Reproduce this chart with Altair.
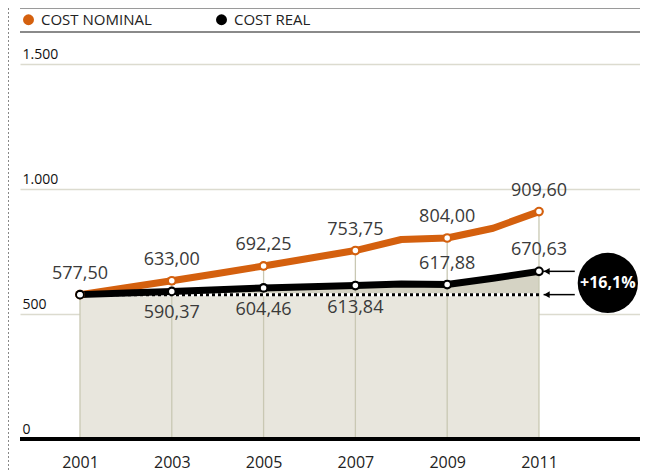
import altair as alt
import pandas as pd

# ---------------- data ----------------
years = [2001, 2002, 2003, 2004, 2005, 2006, 2007, 2008, 2009, 2010, 2011]
nominal = [577.50, 605.0, 633.00, 662.0, 692.25, 723.0, 753.75, 798.0, 804.00, 843.0, 909.60]
real = [577.50, 584.0, 590.37, 597.0, 604.46, 609.0, 613.84, 620.0, 617.88, 643.0, 670.63]

label_years = [2001, 2003, 2005, 2007, 2009, 2011]
nominal_labels = ["577,50", "633,00", "692,25", "753,75", "804,00", "909,60"]
real_labels = ["", "590,37", "604,46", "613,84", "617,88", "670,63"]
real_label_pos = ["none", "below", "below", "below", "above", "above"]

series_names = ["COST NOMINAL", "COST REAL"]
series_colors = ["#d4600e", "#000000"]

y_ticks = [0, 500, 1000, 1500]
x_ticks = [2001, 2003, 2005, 2007, 2009, 2011]
badge_text = "+16,1%"

# ---------------- tables ----------------
base_value = real[0]
area_df = pd.DataFrame({"year": years, "value": real, "base": [base_value] * len(years)})

line_rows = []
for name, vals in zip(series_names, [nominal, real]):
    for y, v in zip(years, vals):
        line_rows.append({"year": y, "value": v, "series": name})
line_df = pd.DataFrame(line_rows)

pt_rows = []
for name, vals in zip(series_names, [nominal, real]):
    for y, v in zip(years, vals):
        if y in label_years:
            pt_rows.append({"year": y, "value": v, "series": name})
pt_df = pd.DataFrame(pt_rows)

nom_lab_df = pd.DataFrame({
    "year": label_years,
    "value": [nominal[years.index(y)] for y in label_years],
    "text": nominal_labels,
})
real_lab_df = pd.DataFrame({
    "year": label_years,
    "value": [real[years.index(y)] for y in label_years],
    "text": real_labels,
    "pos": real_label_pos,
})
vrule_df = pd.DataFrame({
    "year": label_years,
    "value": [nominal[years.index(y)] for y in label_years],
})
dotted_df = pd.DataFrame({"year": [years[0]], "year2": [years[-1]], "value": [base_value]})
arrow_df = pd.DataFrame({"year": [2011.1, 2011.1], "year2": [2011.78, 2011.78],
                         "value": [real[-1], base_value]})
head_df = pd.DataFrame({"year": [2011.17, 2011.17], "value": [real[-1], base_value]})
badge_df = pd.DataFrame({"year": [2012.5], "value": [(real[-1] + base_value) / 2],
                         "text": [badge_text]})

# ---------------- scales ----------------
xscale = alt.Scale(domain=[1999.693, 2013.201], nice=False, zero=False)
yscale = alt.Scale(domain=[0, 1724], nice=False)
FONT = "Open Sans"
PLOT_W = 620


def X(field="year"):
    return alt.X(f"{field}:Q", scale=xscale, title=None)


def Y(field="value"):
    return alt.Y(f"{field}:Q", scale=yscale, title=None)


def series_legend():
    return alt.Legend(title=None, orient="none", direction="horizontal",
                      legendX=1, legendY=4, padding=0, symbolType="circle", symbolSize=120,
                      labelFontSize=15, labelFont=FONT, labelColor="#222222",
                      labelOffset=5, columnPadding=62, symbolStrokeWidth=0,
                      labelLimit=300)


area_light = alt.Chart(area_df).mark_area(color="#e8e6dd").encode(
    x=alt.X("year:Q", scale=xscale, title=None,
            axis=alt.Axis(values=x_ticks, format="d", title=None, domain=False, ticks=False,
                          grid=False, labelFontSize=16, labelPadding=15, labelColor="#222222",
                          labelFont=FONT, labelBaseline="top")),
    y=alt.Y("value:Q", scale=yscale, title=None,
            axis=alt.Axis(values=y_ticks, title=None, domain=False, ticks=False, tickSize=0,
                          grid=True, gridColor="#dcdbcf", gridWidth=1.5,
                          labelAlign="left", labelPadding=-2, labelBaseline="alphabetic",
                          labelOffset=-6, labelFontSize=14, labelColor="#111111", labelFont=FONT,
                          labelExpr="replace(format(datum.value, ','), ',', '.')")),
)

area_dark = alt.Chart(area_df).mark_area(color="#d5d3c4").encode(
    x=X(), y=Y(), y2="base:Q"
)

vrules = alt.Chart(vrule_df).mark_rule(color="#c9c8b3", strokeWidth=1.3).encode(
    x=X(), y=Y(), y2=alt.datum(0)
)

baseline = alt.Chart(area_df).mark_rule(color="#000000", strokeWidth=3).encode(
    y=alt.datum(0, scale=yscale)
)

dotted_white = alt.Chart(dotted_df).mark_rule(color="#ffffff", strokeWidth=3).encode(
    x=X(), x2="year2:Q", y=Y()
)
dotted = alt.Chart(dotted_df).mark_rule(color="#000000", strokeWidth=3, strokeDash=[3, 3]).encode(
    x=X(), x2="year2:Q", y=Y()
)

color_scale = alt.Scale(domain=series_names, range=series_colors)

lines = alt.Chart(line_df).mark_line(strokeWidth=7, strokeJoin="round").encode(
    x=X(), y=Y(),
    color=alt.Color("series:N", scale=color_scale, legend=series_legend()),
    detail="series:N",
)

circles = alt.Chart(pt_df).mark_circle(size=95, opacity=1).encode(
    x=X(), y=Y(),
    color=alt.Color("series:N", scale=color_scale, legend=series_legend()),
)

white_dots = alt.Chart(pt_df).mark_circle(size=30, opacity=1, color="#ffffff").encode(
    x=X(), y=Y()
)

nom_text = alt.Chart(nom_lab_df).mark_text(
    dy=-21, fontSize=18, font=FONT, color="#3a3a3a"
).encode(x=X(), y=Y(), text="text:N")

real_above = alt.Chart(real_lab_df).transform_filter(alt.datum.pos == "above").mark_text(
    dy=-21, fontSize=18, font=FONT, color="#3a3a3a"
).encode(x=X(), y=Y(), text="text:N")

real_below = alt.Chart(real_lab_df).transform_filter(alt.datum.pos == "below").mark_text(
    dy=22, fontSize=18, font=FONT, color="#3a3a3a"
).encode(x=X(), y=Y(), text="text:N")

arrows = alt.Chart(arrow_df).mark_rule(color="#000000", strokeWidth=1.5).encode(
    x=X(), x2="year2:Q", y=Y()
)
heads = alt.Chart(head_df).mark_point(shape="triangle-left", filled=True, size=45,
                                      color="#000000", opacity=1).encode(x=X(), y=Y())

badge = alt.Chart(badge_df).mark_circle(size=3630, color="#000000", opacity=1).encode(
    x=X(), y=Y()
)
badge_label = alt.Chart(badge_df).mark_text(
    fontSize=16, font=FONT, fontWeight="bold", color="#ffffff"
).encode(x=X(), y=Y(), text="text:N")

sep_top = alt.Chart(area_df).mark_rule(color="#9a9a9a", strokeWidth=1).encode(
    x=alt.value(0), x2=alt.value(PLOT_W), y=alt.value(0.5)
)
sep_legend = alt.Chart(area_df).mark_rule(color="#8a8a8a", strokeWidth=1.5).encode(
    x=alt.value(0), x2=alt.value(PLOT_W), y=alt.value(24)
)
left_border = alt.Chart(area_df).mark_rule(color="#888888", strokeWidth=2,
                                           strokeDash=[2, 2]).encode(
    x=alt.value(-12), y=alt.value(0), y2=alt.value(463)
)

chart = alt.layer(
    area_light, area_dark, vrules, baseline, dotted_white, dotted,
    lines, circles, white_dots, nom_text, real_above, real_below,
    arrows, heads, badge, badge_label, sep_top, sep_legend, left_border,
).properties(
    width=PLOT_W, height=431,
    autosize=alt.AutoSizeParams(type="none"),
    padding={"left": 12, "top": 0, "right": 0, "bottom": 32},
    background="#ffffff",
).configure_view(stroke=None)

chart.save("out.html", embed_options={"renderer": "svg", "actions": False})
